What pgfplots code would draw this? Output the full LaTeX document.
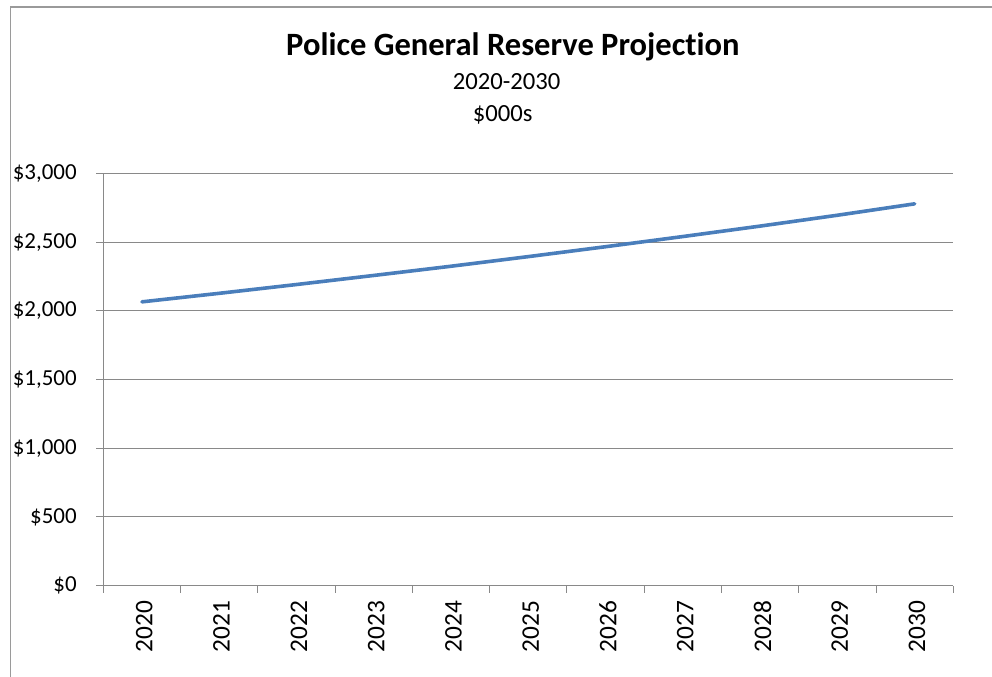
\documentclass[border=0pt]{standalone}
\usepackage{pgfplots}
\pgfplotsset{compat=1.18}
\usepackage{fontspec}
\setmainfont{Carlito}[Ligatures={NoCommon,NoContextual}]
\definecolor{lineblue}{HTML}{4A7EBB}
\definecolor{gridgray}{HTML}{898989}
\definecolor{framegray}{HTML}{9A9A9A}
\begin{document}
\begin{tikzpicture}
\useasboundingbox (0pt,0pt) rectangle (744pt,-507pt);
\draw[framegray, line width=1pt] (7.875pt,-508pt) -- (7.875pt,-5.25pt) -- (745pt,-5.25pt);
\node[anchor=base, font=\fontsize{24.4pt}{28pt}\selectfont\bfseries] at (384.75pt,-41.5pt) {Police General Reserve Projection};
\node[anchor=base, font=\fontsize{18.5pt}{22pt}\selectfont] at (380pt,-66.8pt) {2020-2030};
\node[anchor=base, font=\fontsize{18.5pt}{22pt}\selectfont] at (377pt,-90.8pt) {\$000s};
\begin{axis}[
  at={(77.475pt,-439.275pt)}, anchor=south west,
  width=637.5pt, height=309.3pt, scale only axis,
  xmin=-0.5, xmax=10.5, ymin=0, ymax=3000,
  axis lines*=left,
  axis line style={gridgray, line width=0.75pt},
  xtick={0,...,10},
  xticklabels={2020,2021,2022,2023,2024,2025,2026,2027,2028,2029,2030},
  minor xtick={-0.5,0.5,...,10.5},
  major x tick style={draw=none},
  minor x tick style={gridgray, line width=0.75pt},
  minor tick length=5.25pt,
  tick align=outside,
  ytick={0,500,...,3000},
  major y tick style={gridgray, line width=0.75pt},
  major tick length=5.25pt,
  ymajorgrids,
  grid style={gridgray, line width=0.75pt},
  yticklabel={\$\pgfmathprintnumber[assume math mode=true, 1000 sep={,}]{\tick}},
  yticklabel style={font=\fontsize{17.2pt}{20pt}\selectfont, inner sep=0pt, anchor=east, xshift=-14.5pt},
  xticklabel style={font=\fontsize{19pt}{22pt}\selectfont, inner sep=0pt, xshift=1.8pt, yshift=-6pt, rotate=90, anchor=east},
  clip=false,
]
\addplot[lineblue, line width=2.7pt, line cap=round] coordinates {
(0,2065) (1,2127) (2,2191) (3,2257) (4,2324) (5,2394) (6,2466) (7,2540) (8,2616) (9,2695) (10,2778)
};
\end{axis}
\end{tikzpicture}
\end{document}
